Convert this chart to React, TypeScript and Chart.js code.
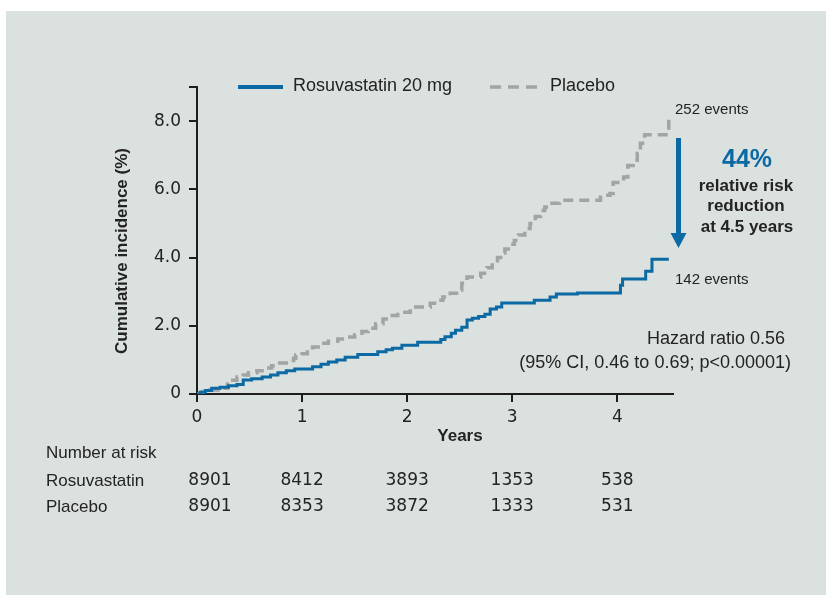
import React, { useEffect, useRef } from 'react';
import { Chart, registerables } from 'chart.js';

Chart.register(...registerables);

// Kaplan–Meier cumulative incidence (%)
const rosuYears = [0, 0.03, 0.08, 0.14, 0.22, 0.30, 0.38, 0.44, 0.52, 0.62, 0.70, 0.77, 0.85, 0.93, 1.10, 1.18, 1.25, 1.33, 1.41, 1.53, 1.72, 1.80, 1.86, 1.95, 2.10, 2.32, 2.36, 2.42, 2.46, 2.52, 2.57, 2.62, 2.68, 2.74, 2.79, 2.85, 2.90, 3.21, 3.36, 3.42, 3.62, 4.03, 4.05, 4.27, 4.33, 4.49];
const rosuValues = [0, 0.05, 0.10, 0.17, 0.20, 0.24, 0.28, 0.41, 0.45, 0.50, 0.56, 0.62, 0.68, 0.73, 0.80, 0.87, 0.94, 1.00, 1.08, 1.16, 1.24, 1.30, 1.34, 1.43, 1.52, 1.60, 1.68, 1.78, 1.87, 1.96, 2.17, 2.22, 2.27, 2.34, 2.49, 2.55, 2.67, 2.75, 2.84, 2.93, 2.96, 3.19, 3.37, 3.60, 3.95, 3.95];

const placeboYears = [0, 0.05, 0.12, 0.20, 0.29, 0.34, 0.38, 0.44, 0.49, 0.57, 0.65, 0.71, 0.77, 0.85, 0.92, 0.94, 1.00, 1.05, 1.10, 1.17, 1.25, 1.34, 1.42, 1.50, 1.57, 1.63, 1.70, 1.77, 1.84, 1.91, 2.03, 2.22, 2.30, 2.34, 2.41, 2.47, 2.52, 2.57, 2.70, 2.76, 2.81, 2.86, 2.89, 2.93, 2.98, 3.02, 3.06, 3.12, 3.17, 3.22, 3.27, 3.31, 3.36, 3.45, 3.84, 3.93, 3.96, 4.06, 4.10, 4.15, 4.19, 4.22, 4.26, 4.49];
const placeboValues = [0, 0.07, 0.12, 0.17, 0.29, 0.40, 0.50, 0.56, 0.62, 0.68, 0.76, 0.83, 0.91, 0.98, 1.05, 1.14, 1.18, 1.23, 1.38, 1.49, 1.55, 1.61, 1.67, 1.73, 1.83, 1.93, 2.06, 2.20, 2.30, 2.40, 2.55, 2.66, 2.75, 2.84, 2.95, 3.05, 3.25, 3.43, 3.54, 3.70, 3.84, 4.00, 4.13, 4.25, 4.39, 4.50, 4.66, 4.85, 5.00, 5.20, 5.38, 5.48, 5.59, 5.68, 5.83, 5.88, 6.20, 6.36, 6.70, 6.85, 7.05, 7.35, 7.60, 8.07];

const xTickValues = [0, 1, 2, 3, 4];
const yTickValues = [0, 2, 4, 6, 8, 9];

const riskYears = [0, 1, 2, 3, 4];
const riskRosuvastatin = ['8901', '8412', '3893', '1353', '538'];
const riskPlacebo = ['8901', '8353', '3872', '1333', '531'];

const BLUE = '#0b69a4';
const GREY = '#a2a4a6';
const TEXT = '#232323';
const PANEL = '#dbe1de';
const SANS = '"Liberation Sans", Arial, sans-serif';
const DIGITS = '"DejaVu Sans", "Liberation Sans", sans-serif';

const decorPlugin = {
  id: 'decor',
  beforeDraw(chart: any) {
    const { ctx, width, height } = chart;
    ctx.save();
    ctx.fillStyle = '#ffffff';
    ctx.fillRect(0, 0, width, height);
    ctx.fillStyle = PANEL;
    ctx.fillRect(6, 11, width - 6, height - 11);
    ctx.restore();
  },
  afterDraw(chart: any) {
    const { ctx } = chart;
    const xs = chart.scales.x;
    ctx.save();
    ctx.fillStyle = TEXT;
    ctx.textBaseline = 'middle';

    // legend
    ctx.lineCap = 'butt';
    ctx.strokeStyle = BLUE;
    ctx.lineWidth = 4;
    ctx.beginPath();
    ctx.moveTo(238, 87);
    ctx.lineTo(283, 87);
    ctx.stroke();
    ctx.strokeStyle = GREY;
    ctx.lineWidth = 3.5;
    ctx.setLineDash([11, 7]);
    ctx.beginPath();
    ctx.moveTo(490, 87);
    ctx.lineTo(537, 87);
    ctx.stroke();
    ctx.setLineDash([]);
    ctx.font = `18px ${SANS}`;
    ctx.textAlign = 'left';
    ctx.fillText('Rosuvastatin 20 mg', 293, 86);
    ctx.fillText('Placebo', 550, 86);

    // y title
    ctx.save();
    ctx.translate(122, 251);
    ctx.rotate(-Math.PI / 2);
    ctx.font = `bold 17px ${SANS}`;
    ctx.textAlign = 'center';
    ctx.fillText('Cumulative incidence (%)', 0, 0);
    ctx.restore();

    // x title
    ctx.font = `bold 17px ${SANS}`;
    ctx.textAlign = 'center';
    ctx.fillText('Years', 460, 436);

    // events labels
    ctx.font = `15px ${SANS}`;
    ctx.textAlign = 'left';
    ctx.fillText('252 events', 675, 110);
    ctx.fillText('142 events', 675, 280);

    // arrow
    ctx.fillStyle = BLUE;
    ctx.fillRect(676, 138, 5, 96);
    ctx.beginPath();
    ctx.moveTo(670.5, 233);
    ctx.lineTo(686.5, 233);
    ctx.lineTo(678.5, 248);
    ctx.closePath();
    ctx.fill();

    ctx.textAlign = 'center';
    ctx.font = `bold 25px ${SANS}`;
    ctx.fillText('44%', 747, 160);
    ctx.fillStyle = TEXT;
    ctx.font = `bold 17px ${SANS}`;
    ctx.fillText('relative risk', 746, 186);
    ctx.fillText('reduction', 746, 206);
    ctx.fillText('at 4.5 years', 747, 227);

    // hazard ratio
    ctx.font = `18px ${SANS}`;
    ctx.textAlign = 'right';
    ctx.fillText('Hazard ratio 0.56', 785, 339);
    ctx.fillText('(95% CI, 0.46 to 0.69; p<0.00001)', 791, 363);

    // number at risk table
    ctx.textAlign = 'left';
    ctx.font = `17px ${SANS}`;
    ctx.fillText('Number at risk', 46, 453);
    ctx.fillText('Rosuvastatin', 46, 481);
    ctx.fillText('Placebo', 46, 507);
    ctx.textAlign = 'center';
    ctx.font = `17px ${DIGITS}`;
    riskYears.forEach((yr, i) => {
      const px = xs.getPixelForValue(yr) + (i === 0 ? 13 : 0);
      ctx.fillText(riskRosuvastatin[i], px, 481);
      ctx.fillText(riskPlacebo[i], px, 507);
    });
    ctx.restore();
  },
};

export default function App() {
  const ref = useRef<HTMLCanvasElement | null>(null);
  useEffect(() => {
    if (!ref.current) return;
    const chart = new Chart(ref.current, {
      type: 'line',
      data: {
        datasets: [
          {
            label: 'Rosuvastatin 20 mg',
            data: rosuYears.map((t, i) => ({ x: t, y: rosuValues[i] })),
            borderColor: BLUE,
            borderWidth: 3,
            stepped: 'before',
            pointRadius: 0,
            fill: false,
          },
          {
            label: 'Placebo',
            data: placeboYears.map((t, i) => ({ x: t, y: placeboValues[i] })),
            borderColor: GREY,
            borderWidth: 3.5,
            borderDash: [10, 6],
            stepped: 'before',
            pointRadius: 0,
            fill: false,
          },
        ],
      },
      options: {
        animation: false,
        responsive: false,
        maintainAspectRatio: false,
        layout: { padding: { left: 97, top: 87, right: 153, bottom: 161 } },
        plugins: { legend: { display: false }, tooltip: { enabled: false } },
        scales: {
          x: {
            type: 'linear',
            min: 0,
            max: 4.53,
            afterBuildTicks: (s: any) => { s.ticks = xTickValues.map((v) => ({ value: v })); },
            afterFit: (s: any) => { s.height = 40; },
            ticks: {
              color: TEXT,
              font: { family: DIGITS, size: 17 },
              padding: 5,
              maxRotation: 0,
              callback: (v: any) => String(v),
            },
            grid: { drawOnChartArea: false, drawTicks: true, tickLength: 8, color: '#1e1e1e', lineWidth: 2 },
            border: { display: true, color: '#1e1e1e', width: 2 },
          },
          y: {
            type: 'linear',
            min: 0,
            max: 9,
            afterBuildTicks: (s: any) => { s.ticks = yTickValues.map((v) => ({ value: v })); },
            afterFit: (s: any) => { s.width = 100; },
            ticks: {
              color: TEXT,
              font: { family: DIGITS, size: 17 },
              padding: 8,
              callback: (v: any) => (v === 9 ? '' : v === 0 ? '0' : Number(v).toFixed(1)),
            },
            grid: { drawOnChartArea: false, drawTicks: true, tickLength: 8, color: '#1e1e1e', lineWidth: 2 },
            border: { display: true, color: '#1e1e1e', width: 2 },
          },
        },
      },
      plugins: [decorPlugin],
    });
    return () => chart.destroy();
  }, []);
  return (
    <div style={{ position: 'absolute', left: 0, top: 0, width: 826, height: 595 }}>
      <canvas ref={ref} width={826} height={595} style={{ display: 'block', width: 826, height: 595 }} />
    </div>
  );
}
